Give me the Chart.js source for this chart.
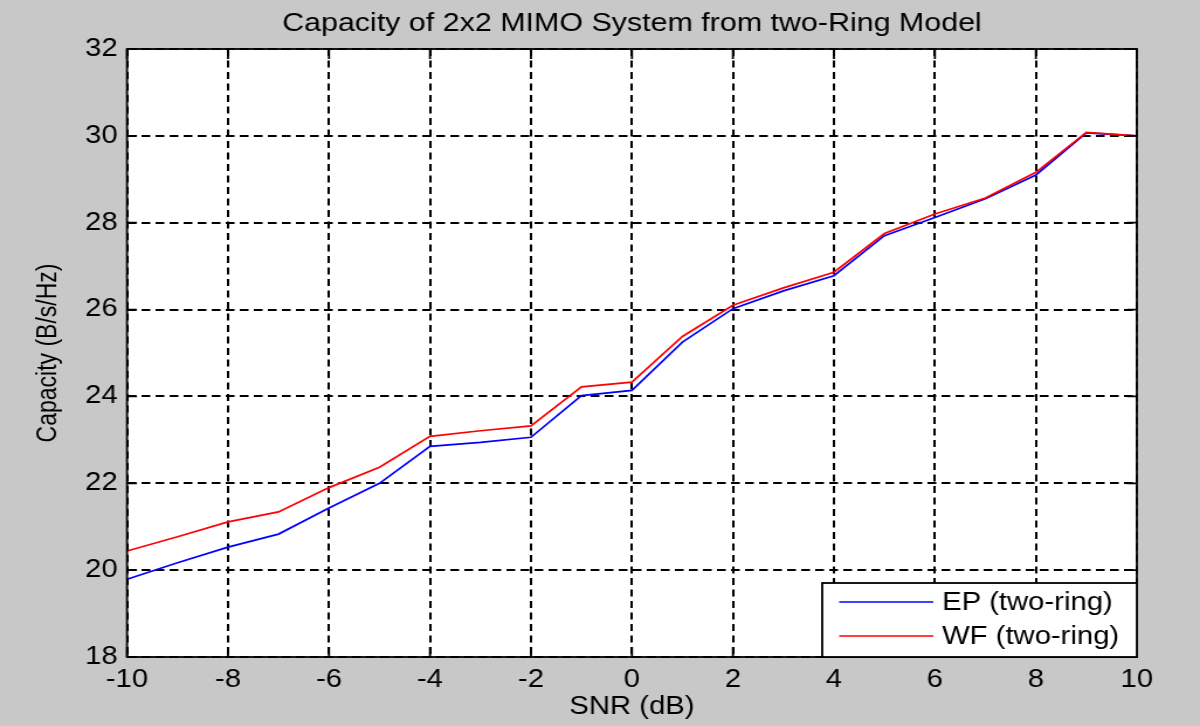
<!DOCTYPE html>
<html>
<head>
<meta charset="utf-8">
<script src="https://cdn.jsdelivr.net/npm/chart.js@4/dist/chart.umd.min.js"></script>
<style>
  html, body { margin: 0; padding: 0; background: #c8c8c8; overflow: hidden; }
</style>
</head>
<body>
<!-- drawn on a narrower bitmap and widened to 1200px -->
<canvas id="c" width="1026" height="726" style="display:block;width:1200px;height:726px"></canvas>
<script>
// SNR in dB
const snr = [-10, -9, -8, -7, -6, -5, -4, -3, -2, -1, 0, 1, 2, 3, 4, 5, 6, 7, 8, 9, 10];
// Capacity, equal power allocation
const capEP = [19.79, 20.17, 20.53, 20.83, 21.43, 22.00, 22.85, 22.94, 23.06, 24.02, 24.14,
               25.25, 26.02, 26.43, 26.78, 27.70, 28.12, 28.55, 29.10, 30.07, 30.00];
// Capacity, water-filling allocation
const capWF = [20.44, 20.77, 21.11, 21.34, 21.90, 22.37, 23.08, 23.21, 23.32, 24.22, 24.33,
               25.38, 26.10, 26.50, 26.86, 27.75, 28.20, 28.57, 29.16, 30.08, 30.00];
const seriesNames = ['EP (two-ring)', 'WF (two-ring)'];
const titleText = 'Capacity of 2x2 MIMO System from two-Ring Model';
const xTicks = [-10, -8, -6, -4, -2, 0, 2, 4, 6, 8, 10];
const yTicks = [18, 20, 22, 24, 26, 28, 30, 32];

const FONT = "'Liberation Sans', Arial, sans-serif";

const toPoints = (ys) => snr.map((x, i) => ({ x: x, y: ys[i] }));

// grey figure background, white axes background, title centred over the axes
const backgroundPlugin = {
  id: 'figureBackground',
  beforeDraw(chart) {
    const { ctx, chartArea: a, width, height } = chart;
    ctx.save();
    ctx.fillStyle = '#c8c8c8';
    ctx.fillRect(0, 0, width, height);
    ctx.fillStyle = '#ffffff';
    ctx.fillRect(a.left, a.top, a.right - a.left, a.bottom - a.top);
    ctx.fillStyle = '#000';
    ctx.font = '26px ' + FONT;
    ctx.textAlign = 'center';
    ctx.textBaseline = 'middle';
    ctx.fillText(titleText, (a.left + a.right) / 2, 23.5);
    ctx.restore();
  }
};

// solid axes box with inward tick marks on all four sides
const boxPlugin = {
  id: 'axesBox',
  afterDatasetsDraw(chart) {
    const { ctx, chartArea: a, scales } = chart;
    ctx.save();
    ctx.strokeStyle = '#000';
    ctx.lineWidth = 1.8;
    ctx.setLineDash([]);
    ctx.beginPath();
    const tl = 10;
    xTicks.forEach(v => {
      const px = scales.x.getPixelForValue(v);
      ctx.moveTo(px, a.bottom); ctx.lineTo(px, a.bottom - tl);
      ctx.moveTo(px, a.top); ctx.lineTo(px, a.top + tl);
    });
    yTicks.forEach(v => {
      const py = scales.y.getPixelForValue(v);
      ctx.moveTo(a.left, py); ctx.lineTo(a.left + tl * 0.85, py);
      ctx.moveTo(a.right, py); ctx.lineTo(a.right - tl * 0.85, py);
    });
    ctx.stroke();
    ctx.strokeRect(a.left, a.top, a.right - a.left, a.bottom - a.top);
    ctx.restore();
  }
};

// legend box in the lower right corner of the axes
const legendBoxPlugin = {
  id: 'legendBox',
  afterDraw(chart) {
    const { ctx, chartArea: a } = chart;
    const w = 269, h = 74;
    const left = a.right - w, top = a.bottom - h;
    ctx.save();
    ctx.fillStyle = '#fff';
    ctx.fillRect(left, top, w, h);
    ctx.strokeStyle = '#000';
    ctx.lineWidth = 1.8;
    ctx.strokeRect(left, top, w, h);
    ctx.font = '25px ' + FONT;
    ctx.textBaseline = 'middle';
    ctx.textAlign = 'left';
    chart.data.datasets.forEach((ds, i) => {
      const y = top + 19 + i * 34;
      ctx.strokeStyle = ds.borderColor;
      ctx.lineWidth = 1.7;
      ctx.beginPath();
      ctx.moveTo(left + 14.5, y);
      ctx.lineTo(left + 95, y);
      ctx.stroke();
      ctx.fillStyle = '#000';
      ctx.fillText(ds.label, left + 102.5, y + 1);
    });
    ctx.restore();
  }
};

new Chart(document.getElementById('c'), {
  type: 'line',
  data: {
    datasets: [
      { label: seriesNames[0], data: toPoints(capEP), borderColor: '#0000ff', borderWidth: 1.7,
        pointRadius: 0, tension: 0, fill: false, order: 1 },
      { label: seriesNames[1], data: toPoints(capWF), borderColor: '#ff0000', borderWidth: 1.7,
        pointRadius: 0, tension: 0, fill: false, order: 0 }
    ]
  },
  options: {
    responsive: false,
    animation: false,
    devicePixelRatio: 1,
    layout: { padding: { left: 0, right: 54, top: 49, bottom: 0 } },
    plugins: {
      legend: { display: false },
      tooltip: { enabled: false },
      title: { display: false }
    },
    scales: {
      x: {
        type: 'linear',
        min: -10, max: 10,
        afterBuildTicks(scale) { scale.ticks = xTicks.map(v => ({ value: v })); },
        afterFit(scale) { scale.height = 69; },
        ticks: { color: '#000', font: { family: FONT, size: 25 }, padding: 8,
                 autoSkip: false, maxRotation: 0, callback: v => String(v) },
        grid: { color: '#000', lineWidth: 2, drawTicks: false },
        border: { display: false, dash: [7, 4.5] },
        title: { display: true, text: 'SNR (dB)', color: '#000',
                 font: { family: FONT, size: 25, lineHeight: 1.2 }, padding: { top: 0, bottom: 4 } }
      },
      y: {
        min: 18, max: 32,
        afterBuildTicks(scale) { scale.ticks = yTicks.map(v => ({ value: v })); },
        afterFit(scale) { scale.width = 108.6; },
        ticks: { color: '#000', font: { family: FONT, size: 25 }, padding: 8,
                 callback: v => String(v) },
        grid: { color: '#000', lineWidth: 2, drawTicks: false },
        border: { display: false, dash: [7.5, 4.5] },
        title: { display: true, text: 'Capacity (B/s/Hz)', color: '#000',
                 font: { family: FONT, size: 23, lineHeight: 1.2 }, padding: { top: 28, bottom: 0 } }
      }
    }
  },
  plugins: [backgroundPlugin, boxPlugin, legendBoxPlugin]
});
</script>
</body>
</html>
